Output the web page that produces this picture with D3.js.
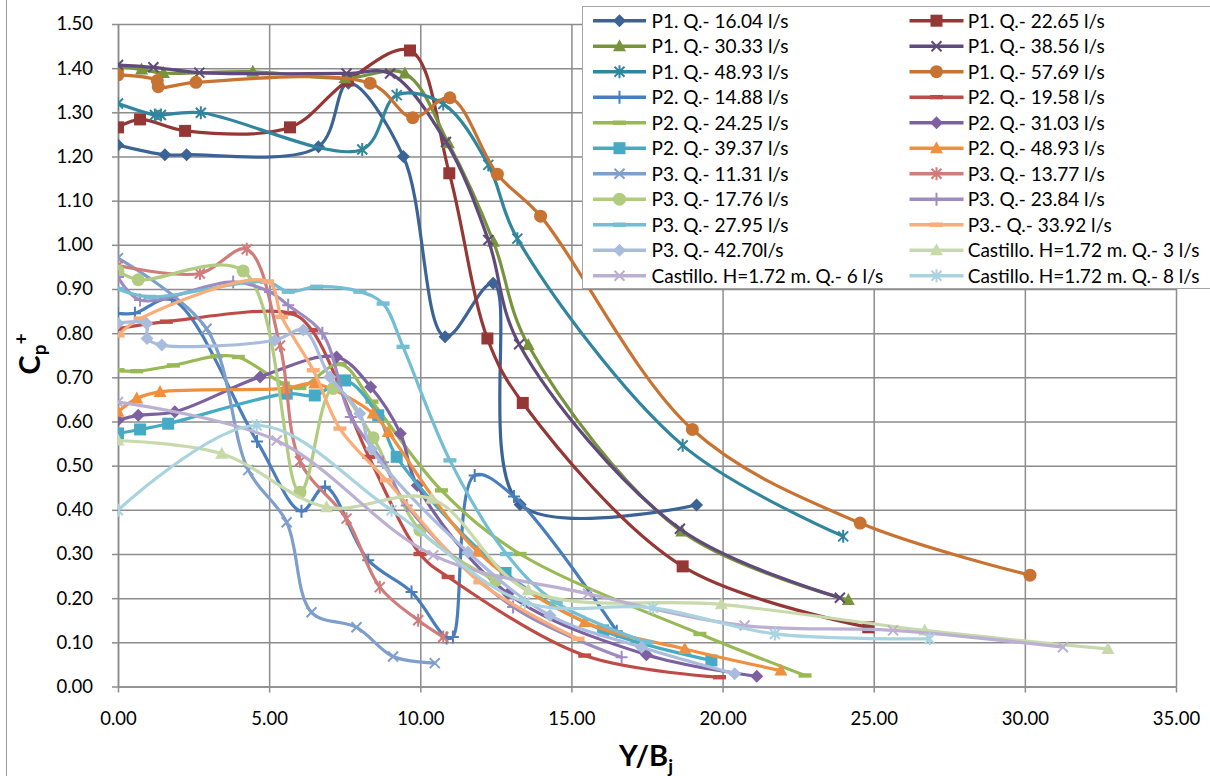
<!DOCTYPE html>
<html><head><meta charset="utf-8">
<script src="https://cdn.jsdelivr.net/npm/d3@7"></script>
<style>body{margin:0;background:#fff} svg{display:block}</style>
</head><body>
<svg id="c" width="1210" height="776"></svg>
<script>
// ---------- DATA ----------
const xTicks = [0, 5, 10, 15, 20, 25, 30, 35];
const yTicks = [0, 0.1, 0.2, 0.3, 0.4, 0.5, 0.6, 0.7, 0.8, 0.9, 1.0, 1.1, 1.2, 1.3, 1.4, 1.5];

const seriesNames = [
  "P1. Q.- 16.04 l/s", "P1. Q.- 22.65 l/s",
  "P1. Q.- 30.33 l/s", "P1. Q.- 38.56 l/s",
  "P1. Q.- 48.93 l/s", "P1. Q.- 57.69 l/s",
  "P2. Q.- 14.88 l/s", "P2. Q.- 19.58 l/s",
  "P2. Q.- 24.25 l/s", "P2. Q.- 31.03 l/s",
  "P2. Q.- 39.37 l/s", "P2. Q.- 48.93 l/s",
  "P3. Q.- 11.31 l/s", "P3. Q.- 13.77 l/s",
  "P3. Q.- 17.76 l/s", "P3. Q.- 23.84 l/s",
  "P3. Q.- 27.95 l/s", "P3.- Q.- 33.92 l/s",
  "P3. Q.- 42.70l/s", "Castillo. H=1.72 m. Q.- 3 l/s",
  "Castillo. H=1.72 m. Q.- 6 l/s", "Castillo. H=1.72 m. Q.- 8 l/s"
];

const p1_1604 = [[0,1.226],[1.55,1.204],[2.27,1.204],[6.63,1.222],[7.62,1.366],[9.44,1.200],[10.82,0.792],[12.41,0.913],[13.30,0.412],[19.14,0.411]];
const p1_2265 = [[0,1.266],[0.73,1.284],[2.22,1.258],[5.69,1.266],[7.6,1.372],[9.66,1.440],[10.96,1.162],[12.22,0.788],[13.39,0.642],[18.68,0.272],[24.82,0.134]];
const p1_3033 = [[0,1.404],[0.78,1.397],[1.5,1.389],[4.46,1.392],[7.51,1.377],[9.49,1.388],[10.93,1.230],[12.42,1.007],[13.57,0.773],[18.65,0.351],[24.16,0.196]];
const p1_3856 = [[0,1.407],[1.17,1.402],[2.69,1.390],[7.56,1.388],[9.0,1.388],[10.85,1.233],[12.25,1.011],[13.27,0.775],[18.59,0.357],[23.88,0.201]];
const p1_4893 = [[0,1.320],[1.22,1.294],[1.42,1.294],[2.74,1.299],[8.08,1.216],[9.22,1.339],[10.76,1.319],[12.25,1.181],[13.21,1.014],[18.68,0.546],[23.99,0.340]];
const p1_5769 = [[0,1.385],[1.3,1.372],[1.33,1.358],[2.58,1.368],[8.34,1.366],[9.75,1.288],[10.98,1.333],[12.55,1.160],[13.98,1.065],[19.0,0.582],[24.55,0.370],[30.17,0.252]];
const p2_1488 = [[0,0.845],[0.56,0.845],[1.78,0.876],[4.6,0.555],[6.07,0.397],[6.85,0.452],[8.28,0.286],[9.71,0.214],[10.87,0.11],[11.08,0.112],[11.8,0.478],[13.1,0.43],[16.5,0.125]];
const p2_1958 = [[0,0.81],[1.6,0.826],[5.7,0.845],[6.41,0.807],[8.3,0.52],[9.99,0.30],[10.92,0.248],[15.44,0.07],[19.9,0.021]];
const p2_2425 = [[0,0.716],[0.62,0.714],[1.83,0.727],[3.26,0.748],[3.98,0.746],[5.47,0.686],[6.02,0.676],[7.35,0.73],[8.4,0.645],[10.7,0.444],[13.3,0.30],[19.25,0.119],[22.73,0.025]];
const p2_3103 = [[0,0.603],[0.67,0.614],[1.88,0.622],[4.7,0.701],[7.23,0.746],[8.36,0.678],[9.34,0.573],[9.9,0.455],[12.9,0.21],[17.48,0.072],[21.13,0.023]];
const p2_3937 = [[0,0.573],[0.73,0.582],[1.66,0.595],[5.58,0.663],[6.51,0.659],[7.51,0.693],[8.61,0.614],[9.22,0.52],[12.82,0.257],[16.05,0.127],[19.63,0.059]];
const p2_4893 = [[0,0.622],[0.62,0.652],[1.39,0.667],[5.52,0.675],[6.51,0.686],[8.44,0.618],[8.94,0.576],[11.9,0.305],[15.44,0.146],[18.75,0.085],[21.93,0.036]];
const p3_1131 = [[0,0.97],[2.93,0.81],[4.31,0.49],[5.58,0.372],[6.4,0.168],[7.89,0.134],[9.1,0.068],[10.48,0.053]];
const p3_1377 = [[0,0.953],[2.71,0.935],[4.26,0.99],[5.36,0.772],[6.02,0.51],[7.56,0.38],[8.66,0.225],[9.93,0.15],[10.76,0.112]];
const p3_1776 = [[0,0.941],[0.67,0.921],[4.14,0.941],[6.02,0.44],[7.12,0.675],[8.44,0.563],[9.99,0.354],[12.5,0.24]];
const p3_2384 = [[0,0.927],[0.73,0.875],[3.81,0.916],[5.03,0.893],[5.63,0.863],[6.76,0.80],[7.7,0.61],[8.77,0.508],[9.55,0.41],[13.07,0.18],[16.66,0.066]];
const p3_2795 = [[0,0.90],[1.06,0.882],[4.92,0.916],[5.63,0.894],[6.57,0.905],[8.0,0.894],[8.77,0.867],[9.43,0.769],[10.98,0.512],[12.85,0.30],[14.5,0.19],[17.5,0.10]];
const p3_3392 = [[0,0.795],[0.73,0.833],[4.95,0.917],[5.41,0.837],[6.46,0.716],[7.34,0.584],[8.88,0.467],[11.97,0.236],[15.22,0.108]];
const p3_4270 = [[0,0.822],[0.95,0.822],[0.96,0.788],[1.45,0.773],[5.19,0.784],[6.13,0.807],[7.01,0.701],[8.0,0.618],[8.39,0.538],[11.58,0.304],[14.29,0.161],[17.32,0.089],[20.4,0.029]];
const cast_3 = [[0,0.557],[3.43,0.527],[6.9,0.406],[10.37,0.425],[13.57,0.218],[19.96,0.186],[26.69,0.127],[32.75,0.085]];
const cast_6 = [[0,0.644],[5.25,0.557],[10.43,0.297],[15.55,0.21],[20.73,0.138],[25.64,0.127],[31.26,0.089]];
const cast_8 = [[0,0.399],[4.59,0.591],[9.05,0.399],[13.46,0.191],[17.7,0.178],[21.73,0.119],[26.85,0.108]];

const seriesData = [p1_1604, p1_2265, p1_3033, p1_3856, p1_4893, p1_5769,
  p2_1488, p2_1958, p2_2425, p2_3103, p2_3937, p2_4893,
  p3_1131, p3_1377, p3_1776, p3_2384, p3_2795, p3_3392, p3_4270,
  cast_3, cast_6, cast_8];

// ---------- STYLE ----------
const seriesColors = ["#3B6395", "#953735", "#77933C", "#5F4A7B", "#31859C", "#C87332",
  "#4A7EBB", "#BE4B48", "#98B954", "#7D60A0", "#46AAC5", "#F0903E",
  "#7E9ECB", "#CF7C7B", "#B1CB80", "#9E8BBF", "#74BED3", "#F9AD78", "#A9BCDD",
  "#C8DAAB", "#BBAFD2", "#A9D3DF"];
const seriesMarkers = ["diamond", "square", "triangle", "x", "star", "circle",
  "plus", "dash", "dash", "diamond", "square", "triangle",
  "x", "star", "circle", "plus", "dash", "dash", "diamond",
  "triangle", "x", "star"];

const svg = d3.select("#c");
const FONT = "Lato, 'Noto Sans', sans-serif";
const L = 118, R = 1176, T = 24, B = 686.5;
const x = d3.scaleLinear().domain([0, 35]).range([L, R]);
const y = d3.scaleLinear().domain([0, 1.5]).range([B, T]);
const GRID = "#8c8c8c";

// chart-area left border
svg.append("line").attr("x1", 6.5).attr("x2", 6.5).attr("y1", 0).attr("y2", 776)
  .attr("stroke", "#9a9a9a").attr("stroke-width", 1);

// gridlines
const gy = svg.append("g").attr("transform", `translate(${L},0)`)
  .call(d3.axisLeft(y).tickValues(yTicks).tickSize(-(R - L)).tickFormat(""));
gy.select(".domain").remove();
gy.selectAll("line").attr("stroke", GRID).attr("stroke-width", 1.5);
const gx = svg.append("g").attr("transform", `translate(0,${B})`)
  .call(d3.axisBottom(x).tickValues(xTicks).tickSize(-(B - T)).tickFormat(""));
gx.select(".domain").remove();
gx.selectAll("line").attr("stroke", GRID).attr("stroke-width", 1.5);

// axes with labels
const ay = svg.append("g").attr("transform", `translate(${L},0)`)
  .call(d3.axisLeft(y).tickValues(yTicks).tickSize(6).tickSizeOuter(0).tickPadding(19).tickFormat(d3.format(".2f")));
const ax = svg.append("g").attr("transform", `translate(0,${B})`)
  .call(d3.axisBottom(x).tickValues(xTicks).tickSize(6).tickSizeOuter(0).tickPadding(19).tickFormat(d3.format(".2f")));
[ay, ax].forEach(a => {
  a.select(".domain").attr("stroke", GRID).attr("stroke-width", 1.5);
  a.selectAll("line").attr("stroke", GRID).attr("stroke-width", 1.5);
  a.selectAll("text").attr("font-family", FONT).attr("font-size", 18.5).attr("fill", "#000");
});

// clip
svg.append("clipPath").attr("id", "plotclip").append("rect")
  .attr("x", L).attr("y", T - 8).attr("width", R - L).attr("height", B - T + 8);

// markers
function drawMarker(g, type, color, cx, cy) {
  const m = g.append("g").attr("transform", `translate(${cx},${cy})`);
  switch (type) {
    case "diamond": m.append("path").attr("d", "M0,-6.5L6.5,0L0,6.5L-6.5,0Z").attr("fill", color); break;
    case "square": m.append("rect").attr("x", -6).attr("y", -6).attr("width", 12).attr("height", 12).attr("fill", color); break;
    case "triangle": m.append("path").attr("d", "M0,-7L6.5,5L-6.5,5Z").attr("fill", color); break;
    case "circle": m.append("circle").attr("r", 6.5).attr("fill", color); break;
    case "x": m.append("path").attr("d", "M-5,-5L5,5M-5,5L5,-5").attr("stroke", color).attr("stroke-width", 2).attr("fill", "none"); break;
    case "star": m.append("path").attr("d", "M-5,-5L5,5M-5,5L5,-5M0,-6.5L0,6.5").attr("stroke", color).attr("stroke-width", 2).attr("fill", "none"); break;
    case "plus": m.append("path").attr("d", "M-6,0L6,0M0,-6.5L0,6.5").attr("stroke", color).attr("stroke-width", 2).attr("fill", "none"); break;
    case "dash": m.append("rect").attr("x", -6.5).attr("y", -2.2).attr("width", 13).attr("height", 4.4).attr("fill", color); break;
  }
}

const line = d3.line().x(d => x(d[0])).y(d => y(d[1])).curve(d3.curveCatmullRom.alpha(0.5));
const plot = svg.append("g").attr("clip-path", "url(#plotclip)");
seriesData.forEach((data, i) => {
  const g = plot.append("g");
  g.append("path").attr("d", line(data)).attr("fill", "none")
    .attr("stroke", seriesColors[i]).attr("stroke-width", 3.2)
    .attr("stroke-linejoin", "round").attr("stroke-linecap", "round");
  data.forEach(d => drawMarker(g, seriesMarkers[i], seriesColors[i], x(d[0]), y(d[1])));
});

// legend
const lg = svg.append("g");
lg.append("rect").attr("x", 582.5).attr("y", 6.5).attr("width", 660).attr("height", 282)
  .attr("fill", "#fff").attr("stroke", "#a6a6a6").attr("stroke-width", 1);
const colX = [[593, 646, 619.5, 651.5], [909.5, 963.5, 936.5, 967.7]];
seriesNames.forEach((name, i) => {
  const col = i % 2, row = Math.floor(i / 2);
  const cy = 20.7 + row * 25.5;
  const c = colX[col];
  lg.append("line").attr("x1", c[0]).attr("x2", c[1]).attr("y1", cy).attr("y2", cy)
    .attr("stroke", seriesColors[i]).attr("stroke-width", 3.5);
  drawMarker(lg, seriesMarkers[i], seriesColors[i], c[2], cy);
  lg.append("text").attr("x", c[3]).attr("y", cy + 6.8).text(name)
    .attr("font-family", FONT).attr("font-size", 19).attr("fill", "#000");
});

// axis titles
const xt = svg.append("text").attr("x", 646).attr("y", 766).attr("text-anchor", "middle")
  .attr("font-family", FONT).attr("font-weight", "bold").attr("font-size", 29).attr("fill", "#000");
xt.append("tspan").text("Y/B");
xt.append("tspan").attr("font-size", 19).attr("dy", 7).text("j");

const yt = svg.append("text").attr("transform", "translate(40,354) rotate(-90)").attr("text-anchor", "middle")
  .attr("font-family", FONT).attr("font-weight", "bold").attr("font-size", 29).attr("fill", "#000");
yt.append("tspan").text("C");
yt.append("tspan").attr("font-size", 19).attr("dy", 6).text("p");
yt.append("tspan").attr("font-size", 19).attr("dy", -18).text("+");
</script>
</body></html>
